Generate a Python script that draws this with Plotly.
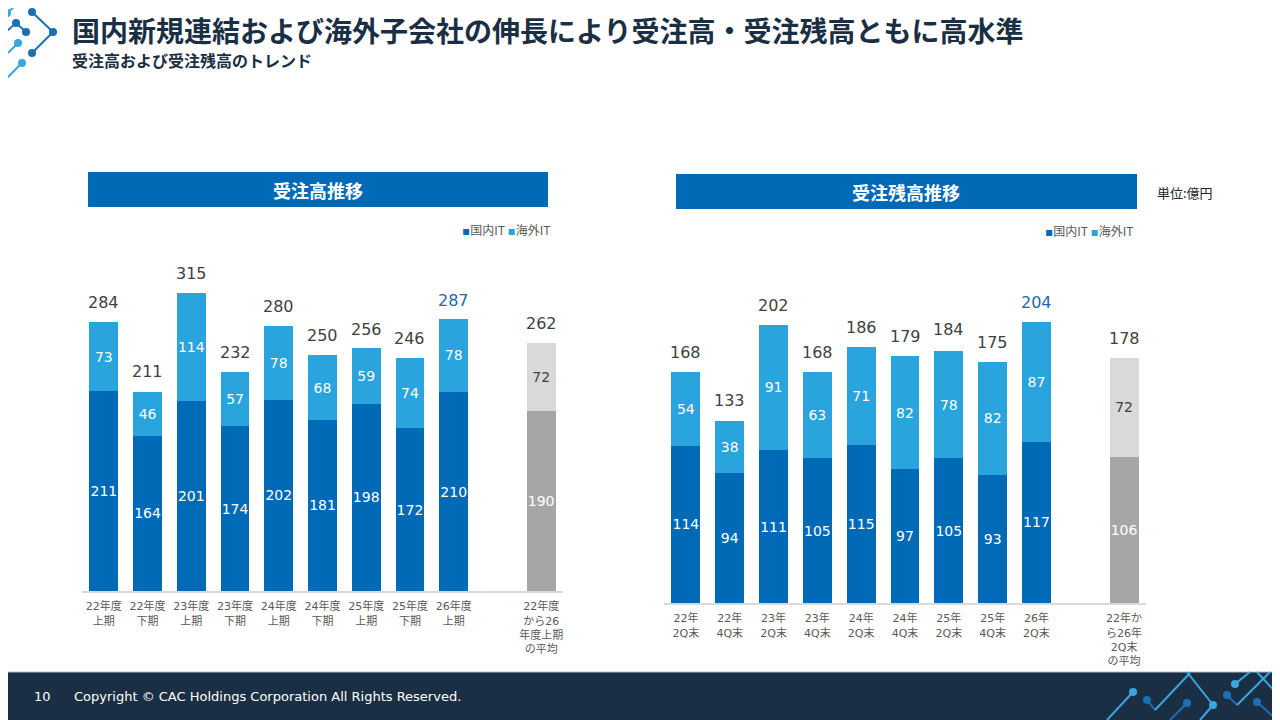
import plotly.graph_objects as go

# 受注高 (億円)
order_cats = ["22年度<br>上期", "22年度<br>下期", "23年度<br>上期", "23年度<br>下期", "24年度<br>上期",
              "24年度<br>下期", "25年度<br>上期", "25年度<br>下期", "26年度<br>上期",
              "22年度<br>から26<br>年度上期<br>の平均"]
order_dom = [211, 164, 201, 174, 202, 181, 198, 172, 210, 190]
order_ovs = [73, 46, 114, 57, 78, 68, 59, 74, 78, 72]
order_tot = [284, 211, 315, 232, 280, 250, 256, 246, 287, 262]

# 受注残高 (億円)
backlog_cats = ["22年<br>2Q末", "22年<br>4Q末", "23年<br>2Q末", "23年<br>4Q末", "24年<br>2Q末",
                "24年<br>4Q末", "25年<br>2Q末", "25年<br>4Q末", "26年<br>2Q末",
                "22年か<br>ら26年<br>2Q末<br>の平均"]
backlog_dom = [114, 94, 111, 105, 115, 97, 105, 93, 117, 106]
backlog_ovs = [54, 38, 91, 63, 71, 82, 78, 82, 87, 72]
backlog_tot = [168, 133, 202, 168, 186, 179, 184, 175, 204, 178]

W, H = 1280, 720
OFF = 8  # page margin around the plot
BLUE = "#006ab7"
LBLUE = "#29a4dc"
GRAY = "#a6a6a6"
LGRAY = "#d9d9d9"
NAVY = "#1b2f44"
NUMFONT = "DejaVu Sans, Noto Sans CJK JP"
JPFONT = "Noto Sans CJK JP"


def px(x):
    return (x - OFF) / W


def py(y):
    return 1 - (y - OFF) / H


fig = go.Figure()


def add_panel(n, cats, dom, ovs, tot):
    xs = list(range(len(cats) - 1)) + [len(cats)]
    xa = "x" if n == 1 else "x2"
    ya = "y" if n == 1 else "y2"
    k = len(cats) - 1
    fig.add_trace(go.Bar(
        x=xs, y=dom, xaxis=xa, yaxis=ya, width=0.66, name="国内IT",
        marker=dict(color=[BLUE] * k + [GRAY], line=dict(width=0)),
        text=dom, textposition="inside", insidetextanchor="middle", textangle=0,
        textfont=dict(color="white", size=14, family=NUMFONT),
        showlegend=False, hoverinfo="skip"))
    fig.add_trace(go.Bar(
        x=xs, y=ovs, xaxis=xa, yaxis=ya, width=0.66, name="海外IT",
        marker=dict(color=[LBLUE] * k + [LGRAY], line=dict(width=0)),
        text=ovs, textposition="inside", insidetextanchor="middle", textangle=0,
        textfont=dict(color=["white"] * k + ["#404040"], size=14, family=NUMFONT),
        showlegend=False, hoverinfo="skip"))
    for i, (x, t) in enumerate(zip(xs, tot)):
        fig.add_annotation(
            x=x, y=t, xref=xa, yref=ya, text=str(t), showarrow=False,
            yanchor="bottom", yshift=8,
            font=dict(size=16, family=NUMFONT,
                      color="#1d6aa8" if i == k - 1 else "#404040"))
    return xs


xs1 = add_panel(1, order_cats, order_dom, order_ovs, order_tot)
xs2 = add_panel(2, backlog_cats, backlog_dom, backlog_ovs, backlog_tot)

tickfont = dict(size=11, color="#595959", family=NUMFONT)
fig.update_layout(
    barmode="stack",
    width=W, height=H, autosize=False,
    margin=dict(l=0, r=0, t=0, b=0),
    paper_bgcolor="white", plot_bgcolor="white",
    uniformtext=dict(minsize=14, mode="show"),
    xaxis=dict(domain=[px(82), px(563)], range=[-0.5, 10.5], tickvals=xs1, ticktext=order_cats,
               showline=True, linecolor=LGRAY, linewidth=2, showgrid=False, zeroline=False,
               tickfont=tickfont, ticks="", ticklabelstandoff=4),
    yaxis=dict(domain=[py(591), py(260)], range=[0, 331 / 0.946], visible=False),
    xaxis2=dict(domain=[px(664), px(1146)], range=[-0.5, 10.5], tickvals=xs2, ticktext=backlog_cats,
                showline=True, linecolor=LGRAY, linewidth=2, showgrid=False, zeroline=False,
                tickfont=tickfont, ticks="", ticklabelstandoff=4, anchor="y2"),
    yaxis2=dict(domain=[py(603), py(260)], range=[0, 343 / 1.378], visible=False, anchor="x2"),
    font=dict(family=JPFONT),
)

shapes = []
# header bars
shapes.append(dict(type="rect", xref="paper", yref="paper", x0=px(88), x1=px(548), y0=py(207), y1=py(172),
                   fillcolor=BLUE, line=dict(width=0), layer="below"))
shapes.append(dict(type="rect", xref="paper", yref="paper", x0=px(676), x1=px(1137), y0=py(209), y1=py(174),
                   fillcolor=BLUE, line=dict(width=0), layer="below"))
# footer band
shapes.append(dict(type="rect", xref="paper", yref="paper", x0=0, x1=1, y0=0, y1=py(672),
                   fillcolor=NAVY, line=dict(width=0), layer="below"))
shapes.append(dict(type="line", xref="paper", yref="paper", x0=0, x1=1, y0=py(672), y1=py(672),
                   line=dict(color="#b8bec6", width=1)))


def seg(pts, color, width=2):
    for (x0, y0), (x1, y1) in zip(pts[:-1], pts[1:]):
        shapes.append(dict(type="line", xref="paper", yref="paper", x0=px(x0), y0=py(y0), x1=px(x1), y1=py(y1),
                           line=dict(color=color, width=width)))


def dot(x, y, color, r=4):
    shapes.append(dict(type="circle", xref="paper", yref="paper", x0=px(x - r), x1=px(x + r),
                       y0=py(y + r), y1=py(y - r), fillcolor=color, line=dict(width=0)))


DB = "#1a6fb5"
LB = "#3aa6de"
# top-left mark
seg([(7, 13), (22, 0)], LB)
dot(7, 13, LB)
seg([(32, 12), (53, 32), (32, 53)], DB)
dot(32, 12, DB)
dot(53, 32, DB)
dot(32, 53, DB)
seg([(0, 37), (16, 23), (26, 32)], DB)
dot(16, 23, DB)
dot(26, 32, DB)
seg([(0, 45), (8, 53), (18, 43)], LB)
dot(18, 43, LB)
seg([(22, 63), (0, 85)], LB)
dot(22, 63, LB)

# bottom-right mark
seg([(1133, 692), (1107, 720)], LB)
dot(1133, 692, LB)
seg([(1147, 700), (1155, 710)], DB)
dot(1147, 700, DB)
seg([(1155, 710), (1190, 673)], LB)
seg([(1187, 703), (1170, 720)], DB)
dot(1187, 703, DB)
seg([(1187, 672), (1213, 705), (1200, 720)], LB)
dot(1213, 705, LB)
seg([(1227, 695), (1237, 705)], DB)
seg([(1237, 705), (1270, 672)], LB)
dot(1227, 695, DB)
seg([(1235, 684), (1250, 672)], LB)
dot(1235, 684, LB)
seg([(1257, 672), (1280, 697)], LB)
seg([(1257, 702), (1277, 720)], DB)
dot(1257, 702, DB)

fig.update_layout(shapes=shapes)


def txt(x, y, s, size, color, xanchor="left", family=JPFONT, weight=None):
    f = dict(size=size, color=color, family=family)
    if weight:
        f["weight"] = weight
    fig.add_annotation(x=px(x), y=py(y), xref="paper", yref="paper", text=s, showarrow=False,
                       xanchor=xanchor, yanchor="middle", font=f)


txt(70, 30, "国内新規連結および海外子会社の伸長により受注高・受注残高ともに高水準", 28, NAVY, weight=700)
txt(70, 60, "受注高および受注残高のトレンド", 16, NAVY, weight=700)
txt(318, 190, "受注高推移", 18, "white", xanchor="center", weight=700)
txt(906, 192, "受注残高推移", 18, "white", xanchor="center", weight=700)
txt(1155, 193, "単位:億円", 13, "#222222")

legend_txt = ("<span style='color:%s;font-family:DejaVu Sans'>▪</span>国内IT "
              "<span style='color:%s;font-family:DejaVu Sans'>▪</span>海外IT") % (BLUE, LBLUE)
txt(552, 229, legend_txt, 12, "#595959", xanchor="right")
txt(1135, 230, legend_txt, 12, "#595959", xanchor="right")

txt(32, 696, "10", 13, "white", family=NUMFONT)
txt(72, 696, "Copyright © CAC Holdings Corporation All Rights Reserved.", 13, "white", family=NUMFONT)

fig.write_html("out.html")
